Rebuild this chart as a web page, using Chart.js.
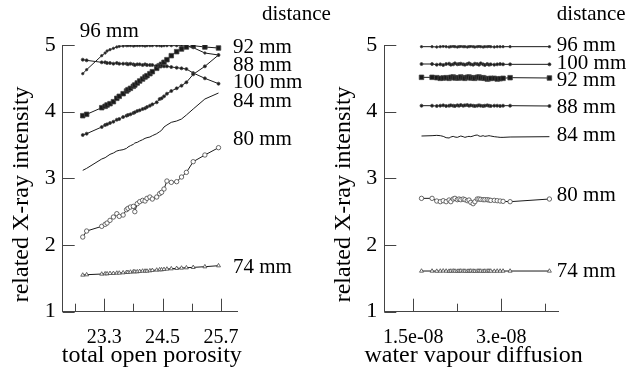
<!DOCTYPE html>
<html>
<head>
<meta charset="utf-8">
<script src="https://cdn.jsdelivr.net/npm/chart.js@4.4.1/dist/chart.umd.min.js"></script>
<style>
  html, body { margin: 0; padding: 0; background: #fff; }
  #wrap { position: relative; width: 628px; height: 373px; }
  canvas { position: absolute; top: 0; }
  #porosityChart { left: 0; }
  #diffusionChart { left: 314px; }
</style>
</head>
<body>
<div id="wrap">
  <canvas id="porosityChart" width="340" height="373"></canvas>
  <canvas id="diffusionChart" width="314" height="373"></canvas>
</div>
<script>
// ---- data: left panel (x = total open porosity) ----
const porosity = [22.86, 22.94, 23.25, 23.32, 23.36, 23.42, 23.49, 23.56, 23.61, 23.69,
  23.76, 23.79, 23.84, 23.90, 23.93, 23.98, 24.03, 24.09, 24.14, 24.18,
  24.24, 24.29, 24.38, 24.44, 24.48, 24.53, 24.59, 24.68, 24.79, 24.89,
  24.99, 25.13, 25.37, 25.65];

const por96 = [4.57, 4.63, 4.84, 4.88, 4.91, 4.93, 4.95, 4.97, 4.98, 4.985,
  4.99, 4.99, 4.99, 4.985, 4.99, 4.99, 4.99, 4.99, 4.985, 4.99,
  4.99, 4.99, 4.99, 4.99, 4.985, 4.99, 4.99, 4.99, 4.99, 4.99,
  4.985, 4.96, 4.88, 4.85];
const por92 = [3.94, 3.96, 4.06, 4.08, 4.10, 4.12, 4.15, 4.20, 4.23, 4.27,
  4.31, 4.33, 4.35, 4.38, 4.40, 4.43, 4.46, 4.49, 4.52, 4.54,
  4.57, 4.60, 4.65, 4.69, 4.71, 4.74, 4.78, 4.84, 4.90, 4.94,
  4.97, 4.99, 4.97, 4.955];
const por88 = [3.65, 3.67, 3.77, 3.80, 3.81, 3.83, 3.85, 3.88, 3.89, 3.92,
  3.94, 3.95, 3.96, 3.98, 3.99, 4.01, 4.02, 4.04, 4.05, 4.07,
  4.09, 4.11, 4.14, 4.19, 4.20, 4.23, 4.27, 4.31, 4.35, 4.39,
  4.44, 4.56, 4.68, 4.85];
const por100 = [4.78, 4.77, 4.74, 4.74, 4.73, 4.73, 4.72, 4.73, 4.72, 4.72,
  4.72, 4.71, 4.72, 4.71, 4.70, 4.71, 4.71, 4.70, 4.71, 4.70,
  4.70, 4.70, 4.69, 4.69, 4.69, 4.68, 4.68, 4.67, 4.66, 4.65,
  4.64, 4.58, 4.50, 4.42];
const por84 = [3.12, 3.15, 3.29, 3.31, 3.33, 3.36, 3.38, 3.41, 3.42, 3.43,
  3.45, 3.47, 3.49, 3.51, 3.53, 3.54, 3.56, 3.58, 3.60, 3.61,
  3.62, 3.64, 3.67, 3.70, 3.72, 3.77, 3.80, 3.84, 3.86, 3.89,
  3.95, 4.04, 4.19, 4.28];
const por80 = [2.12, 2.21, 2.28, 2.31, 2.33, 2.37, 2.42, 2.47, 2.43, 2.45,
  2.53, 2.55, 2.57, 2.58, 2.50, 2.62, 2.65, 2.67, 2.66, 2.70,
  2.72, 2.69, 2.72, 2.77, 2.79, 2.84, 2.96, 2.94, 2.95, 3.02,
  3.09, 3.25, 3.35, 3.46];
const por74 = [1.55, 1.555, 1.565, 1.57, 1.57, 1.575, 1.575, 1.58, 1.58, 1.585,
  1.59, 1.59, 1.595, 1.60, 1.60, 1.60, 1.605, 1.61, 1.61, 1.61,
  1.615, 1.62, 1.625, 1.63, 1.63, 1.635, 1.64, 1.645, 1.65, 1.655,
  1.66, 1.665, 1.675, 1.69];

// ---- data: right panel (x = water vapour diffusion) ----
const diffusion = [1.64e-8, 1.82e-8, 1.90e-8, 1.96e-8, 2.01e-8, 2.06e-8, 2.11e-8, 2.14e-8, 2.18e-8, 2.21e-8,
  2.25e-8, 2.28e-8, 2.31e-8, 2.35e-8, 2.38e-8, 2.42e-8, 2.45e-8, 2.48e-8, 2.52e-8, 2.55e-8,
  2.59e-8, 2.62e-8, 2.65e-8, 2.69e-8, 2.72e-8, 2.76e-8, 2.79e-8, 2.82e-8, 2.88e-8, 2.93e-8,
  2.98e-8, 3.03e-8, 3.15e-8, 3.82e-8];

const dif96 = [4.975, 4.975, 4.97, 4.975, 4.98, 4.975, 4.97, 4.975, 4.98, 4.975,
  4.97, 4.975, 4.98, 4.975, 4.975, 4.97, 4.975, 4.98, 4.975, 4.97,
  4.975, 4.98, 4.975, 4.97, 4.975, 4.975, 4.98, 4.975, 4.97, 4.975,
  4.975, 4.975, 4.975, 4.975];
const dif100 = [4.715, 4.715, 4.705, 4.71, 4.70, 4.715, 4.72, 4.705, 4.71, 4.725,
  4.71, 4.715, 4.72, 4.71, 4.705, 4.715, 4.725, 4.71, 4.705, 4.72,
  4.715, 4.705, 4.725, 4.71, 4.70, 4.715, 4.705, 4.71, 4.705, 4.71,
  4.715, 4.71, 4.71, 4.71];
const dif92 = [4.515, 4.515, 4.51, 4.50, 4.505, 4.51, 4.50, 4.515, 4.52, 4.505,
  4.51, 4.505, 4.52, 4.51, 4.50, 4.515, 4.52, 4.505, 4.51, 4.50,
  4.515, 4.52, 4.505, 4.51, 4.50, 4.49, 4.495, 4.50, 4.50, 4.49,
  4.495, 4.50, 4.51, 4.505];
const dif88 = [4.09, 4.09, 4.085, 4.09, 4.095, 4.085, 4.09, 4.095, 4.09, 4.085,
  4.095, 4.09, 4.10, 4.09, 4.095, 4.10, 4.09, 4.095, 4.09, 4.085,
  4.09, 4.095, 4.09, 4.085, 4.09, 4.095, 4.09, 4.085, 4.09, 4.09,
  4.085, 4.09, 4.09, 4.085];
const dif84 = [3.635, 3.64, 3.645, 3.64, 3.63, 3.61, 3.605, 3.62, 3.63, 3.62,
  3.615, 3.625, 3.635, 3.625, 3.615, 3.625, 3.63, 3.625, 3.635, 3.645,
  3.65, 3.635, 3.63, 3.64, 3.63, 3.635, 3.64, 3.635, 3.625, 3.62,
  3.615, 3.615, 3.62, 3.625];
const dif80 = [2.70, 2.70, 2.66, 2.65, 2.665, 2.65, 2.675, 2.65, 2.69, 2.70,
  2.68, 2.69, 2.68, 2.69, 2.68, 2.665, 2.675, 2.64, 2.62, 2.65,
  2.69, 2.69, 2.685, 2.68, 2.68, 2.68, 2.675, 2.67, 2.67, 2.665,
  2.66, 2.655, 2.65, 2.69];
const dif74 = [1.61, 1.61, 1.608, 1.61, 1.612, 1.61, 1.608, 1.61, 1.612, 1.61,
  1.608, 1.61, 1.612, 1.61, 1.61, 1.608, 1.61, 1.612, 1.61, 1.608,
  1.61, 1.612, 1.61, 1.608, 1.61, 1.61, 1.612, 1.61, 1.608, 1.61,
  1.61, 1.61, 1.61, 1.61];

// ---- ticks and labels ----
const yTicks = [1, 2, 3, 4, 5];
const porosityTicks = [23.3, 24.5, 25.7];
const porosityMinorTicks = [22.7, 23.9, 25.1];
const diffusionTicks = [1.5e-8, 3.0e-8];
const diffusionTickLabels = ['1.5e-08', '3.e-08'];
const diffusionMinorTicks = [2.25e-8, 3.75e-8];

const porosityLabelText = ['92 mm', '88 mm', '100 mm', '84 mm', '80 mm', '74 mm'];
const porosityLabelY = [4.97, 4.70, 4.44, 4.16, 3.58, 1.66];
const diffusionLabelText = ['96 mm', '100 mm', '92 mm', '88 mm', '84 mm', '80 mm', '74 mm'];
const diffusionLabelY = [4.99, 4.72, 4.47, 4.06, 3.65, 2.74, 1.61];

const SERIF = "'Liberation Serif', 'DejaVu Serif', serif";
const INK = '#1a1a1a';
const AXIS = '#444';

// marker look for each distance
const seriesStyle = {
  '96 mm': { pointStyle: 'circle', pointRadius: 1.2, fill: INK },
  '92 mm': { pointStyle: 'rect', pointRadius: 3.2, fill: INK },
  '88 mm': { pointStyle: 'circle', pointRadius: 1.5, fill: INK },
  '100 mm': { pointStyle: 'circle', pointRadius: 1.5, fill: INK },
  '84 mm': { pointStyle: 'circle', pointRadius: 0, fill: INK },
  '80 mm': { pointStyle: 'circle', pointRadius: 2.2, fill: '#fff' },
  '74 mm': { pointStyle: 'triangle', pointRadius: 2.3, fill: '#fff' }
};

function makeDataset(name, xs, ys) {
  const st = seriesStyle[name];
  return {
    label: name,
    data: xs.map((x, i) => ({ x, y: ys[i] })),
    showLine: true,
    borderColor: INK,
    borderWidth: 1,
    pointStyle: st.pointStyle,
    pointRadius: st.pointRadius,
    pointBackgroundColor: st.fill,
    pointBorderColor: '#444',
    pointBorderWidth: 0.8,
    tension: 0
  };
}

function drawSeg(ctx, x1, y1, x2, y2) {
  ctx.beginPath();
  ctx.moveTo(x1, y1);
  ctx.lineTo(x2, y2);
  ctx.stroke();
}

const panelDecor = {
  id: 'panelDecor',
  afterDraw(chart, args, opts) {
    const { ctx, chartArea, scales: { x, y } } = chart;
    ctx.save();
    // tick marks pointing into the plot
    ctx.strokeStyle = AXIS;
    ctx.lineWidth = 1;
    opts.majorX.forEach(v => {
      const px = Math.round(x.getPixelForValue(v)) + 0.5;
      drawSeg(ctx, px, chartArea.bottom, px, chartArea.bottom - 13);
    });
    opts.minorX.forEach(v => {
      const px = Math.round(x.getPixelForValue(v)) + 0.5;
      drawSeg(ctx, px, chartArea.bottom, px, chartArea.bottom - 8);
    });
    yTicks.forEach(v => {
      const py = Math.round(y.getPixelForValue(v)) + 0.5;
      drawSeg(ctx, chartArea.left, py, chartArea.left + 12, py);
    });

    ctx.fillStyle = '#000';
    // axis titles
    ctx.font = `24px ${SERIF}`;
    ctx.textAlign = 'center';
    ctx.textBaseline = 'middle';
    ctx.fillText(opts.xTitle, (chartArea.left + chartArea.right) / 2 + 2, 356);
    ctx.save();
    ctx.translate(chartArea.left - 41, (chartArea.top + chartArea.bottom) / 2 + 16);
    ctx.rotate(-Math.PI / 2);
    ctx.fillText('related X-ray intensity', 0, 0);
    ctx.restore();

    // distance labels at the right of the curves
    ctx.font = `21px ${SERIF}`;
    ctx.textAlign = 'left';
    const lx = chartArea.right + opts.labelShift;
    opts.labels.forEach((t, i) => {
      ctx.fillText(t, lx, y.getPixelForValue(opts.labelY[i]));
    });
    ctx.fillText('distance', chartArea.right + opts.headShift, 14);
    if (opts.topLabel) {
      ctx.fillText(opts.topLabel.text,
        x.getPixelForValue(opts.topLabel.x), y.getPixelForValue(opts.topLabel.y));
    }
    ctx.restore();
  }
};

function buildOptions(cfg) {
  return {
    responsive: false,
    animation: false,
    events: [],
    layout: { padding: { top: 45, right: cfg.padRight, left: 0, bottom: 0 } },
    plugins: {
      legend: { display: false },
      tooltip: { enabled: false },
      panelDecor: cfg.decor
    },
    scales: {
      x: {
        type: 'linear',
        min: cfg.xMin,
        max: cfg.xMax,
        afterBuildTicks: scale => { scale.ticks = cfg.xTicks.map(v => ({ value: v })); },
        afterFit: scale => { scale.height = 61.3; },
        ticks: {
          autoSkip: false,
          maxRotation: 0,
          padding: 14,
          color: '#000',
          font: { family: SERIF, size: 20 },
          callback: cfg.xLabel
        },
        grid: { display: false, drawTicks: false },
        border: { display: true, color: AXIS, width: 1 }
      },
      y: {
        type: 'linear',
        min: 1,
        max: 5,
        afterBuildTicks: scale => { scale.ticks = yTicks.map(v => ({ value: v })); },
        afterFit: scale => { scale.width = cfg.yWidth; },
        ticks: {
          autoSkip: false,
          padding: 7,
          color: '#000',
          font: { family: SERIF, size: 22 },
          callback: v => String(v)
        },
        grid: { display: false, drawTicks: false },
        border: { display: true, color: AXIS, width: 1 }
      }
    }
  };
}

new Chart(document.getElementById('porosityChart'), {
  type: 'scatter',
  data: {
    datasets: [
      makeDataset('74 mm', porosity, por74),
      makeDataset('80 mm', porosity, por80),
      makeDataset('84 mm', porosity, por84),
      makeDataset('88 mm', porosity, por88),
      makeDataset('100 mm', porosity, por100),
      makeDataset('92 mm', porosity, por92),
      makeDataset('96 mm', porosity, por96)
    ]
  },
  options: buildOptions({
    padRight: 103,
    yWidth: 62.7,
    xMin: 22.448,
    xMax: 26.03,
    xTicks: porosityTicks,
    xLabel: v => v.toFixed(1),
    decor: {
      xTitle: 'total open porosity',
      majorX: porosityTicks,
      minorX: porosityMinorTicks,
      labels: porosityLabelText,
      labelY: porosityLabelY,
      labelShift: -4,
      headShift: 25,
      topLabel: { text: '96 mm', x: 22.80, y: 5.2 }
    }
  }),
  plugins: [panelDecor]
});

new Chart(document.getElementById('diffusionChart'), {
  type: 'scatter',
  data: {
    datasets: [
      makeDataset('74 mm', diffusion, dif74),
      makeDataset('80 mm', diffusion, dif80),
      makeDataset('84 mm', diffusion, dif84),
      makeDataset('88 mm', diffusion, dif88),
      makeDataset('92 mm', diffusion, dif92),
      makeDataset('100 mm', diffusion, dif100),
      makeDataset('96 mm', diffusion, dif96)
    ]
  },
  options: buildOptions({
    padRight: 69.2,
    yWidth: 70.3,
    xMin: 1.006e-8,
    xMax: 3.98e-8,
    xTicks: diffusionTicks,
    xLabel: (v, i) => diffusionTickLabels[i],
    decor: {
      xTitle: 'water vapour diffusion',
      majorX: diffusionTicks,
      minorX: diffusionMinorTicks,
      labels: diffusionLabelText,
      labelY: diffusionLabelY,
      labelShift: -2,
      headShift: -2,
      topLabel: null
    }
  }),
  plugins: [panelDecor]
});
</script>
</body>
</html>
